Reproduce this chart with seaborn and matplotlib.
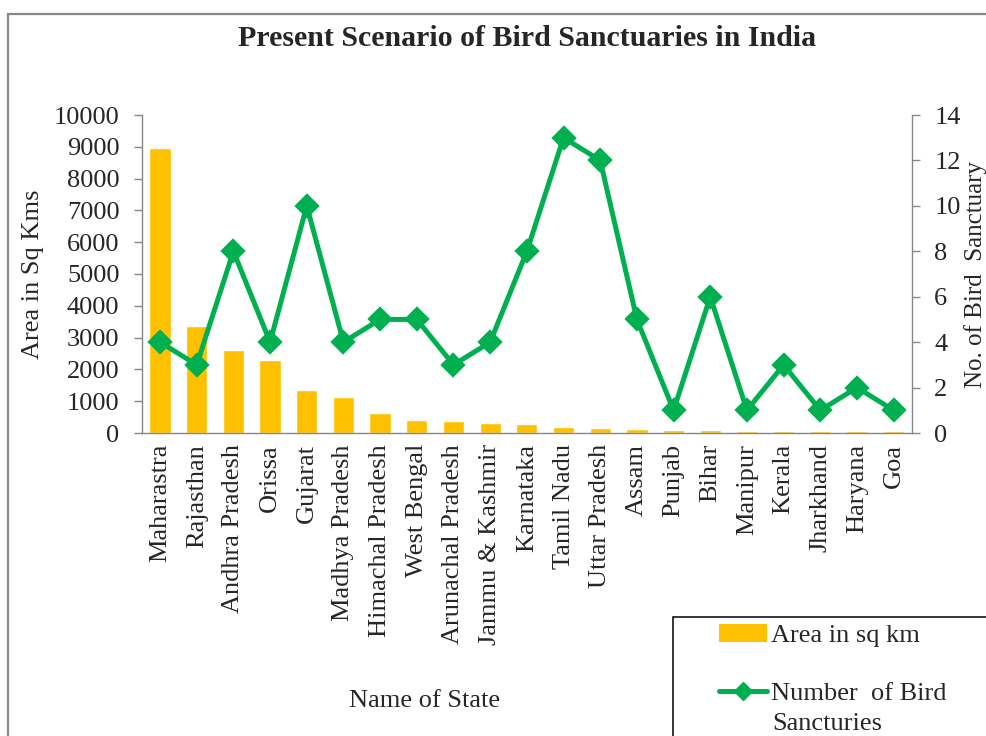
import numpy as np
import pandas as pd
import matplotlib
matplotlib.use("Agg")
import matplotlib.pyplot as plt
from matplotlib.patches import Rectangle, Patch
from matplotlib.lines import Line2D
import seaborn as sns

states = ["Maharastra", "Rajasthan", "Andhra Pradesh", "Orissa", "Gujarat",
          "Madhya Pradesh", "Himachal Pradesh", "West Bengal", "Arunachal Pradesh",
          "Jammu & Kashmir", "Karnataka", "Tamil Nadu", "Uttar Pradesh", "Assam",
          "Punjab", "Bihar", "Manipur", "Kerala", "Jharkhand", "Haryana", "Goa"]
area_sqkm = [8950, 3360, 2620, 2285, 1340, 1130, 640, 420, 375, 315, 270,
             200, 160, 125, 95, 90, 60, 58, 58, 58, 58]
num_sanctuaries = [4, 3, 8, 4, 10, 4, 5, 5, 3, 4, 8, 13, 12, 5, 1, 6, 1, 3, 1, 2, 1]
left_ticks = list(range(0, 10001, 1000))
right_ticks = list(range(0, 15, 2))

df = pd.DataFrame({"state": states, "area": area_sqkm, "count": num_sanctuaries})

sns.set_style("white")
plt.rcParams["font.family"] = ["Liberation Serif", "DejaVu Serif"]
FS = 19
BAR = "#FFC000"
LINE = "#00B050"
GRAY = "#868686"

fig = plt.figure(figsize=(9.86, 7.36), dpi=100)
ax = fig.add_axes([141.7 / 986, 1 - 433 / 736, (912 - 141.7) / 986, (433 - 115) / 736])

sns.barplot(data=df, x="state", y="area", color=BAR, saturation=1, width=0.58,
            ax=ax, errorbar=None)
ax2 = ax.twinx()
sns.pointplot(data=df, x="state", y="count", ax=ax2, color=LINE, markers="D",
              markersize=10, linewidth=3.6, errorbar=None)

n = len(states)
ax.set_xlim(-0.5, n - 0.5)
ax.set_ylim(0, 10000)
ax2.set_ylim(0, 14)
ax.set_yticks(left_ticks)
ax.set_yticklabels([str(t) for t in left_ticks], fontsize=FS)
ax2.set_yticks(right_ticks)
ax2.set_yticklabels([str(t) for t in right_ticks], fontsize=FS)
ax.set_xticks(range(n))
ax.set_xticklabels(states, rotation=90, fontsize=FS)
ax.set_xticks(np.arange(-0.5, n, 1.0), minor=True)
ax.tick_params(axis="x", which="major", length=0, pad=8)
ax.tick_params(axis="x", which="minor", length=6, width=1.0, color=GRAY, direction="out")
ax.tick_params(axis="y", length=6, width=1.0, color=GRAY, direction="out", pad=10, left=True)
ax2.tick_params(axis="y", length=6, width=1.0, color=GRAY, direction="out", pad=10, right=True)
ax2.tick_params(axis="x", which="both", bottom=False, top=False, labelbottom=False)
ax2.set_xlabel("")

for sp in ["top", "right"]:
    ax.spines[sp].set_visible(False)
for sp in ["left", "bottom"]:
    ax.spines[sp].set_color(GRAY)
    ax.spines[sp].set_linewidth(1.0)
for sp in ["top", "left", "bottom"]:
    ax2.spines[sp].set_visible(False)
ax2.spines["right"].set_color(GRAY)
ax2.spines["right"].set_linewidth(1.0)

ax.set_xlabel("Name of State", fontsize=FS)
ax.xaxis.set_label_coords((425 - 141.7) / 770.3, (433 - 690) / 318)
ax.set_ylabel("Area in Sq Kms", fontsize=FS)
ax.yaxis.set_label_coords((44 - 141.7) / 770.3, 0.5)
ax2.set_ylabel("No. of Bird  Sanctuary", fontsize=18)
ax2.yaxis.set_label_coords((964 - 141.7) / 770.3, 0.5)

fig.text(527 / 986, 1 - 38 / 736, "Present Scenario of Bird Sanctuaries in India",
         ha="center", va="center", fontsize=21.5, fontweight="bold")

# outer chart border (cropped at right/bottom)
fig.add_artist(Rectangle((8 / 986, -0.2), 1.2, 1.2 - 14 / 736, transform=fig.transFigure,
                         fill=False, edgecolor="#888888", linewidth=1.6, clip_on=False))
# legend box (cropped at right/bottom)
fig.add_artist(Rectangle((673 / 986, -0.2), 1.0, 0.2 + 1 - 617 / 736, transform=fig.transFigure,
                         fill=False, edgecolor="black", linewidth=1.1, clip_on=False))

handles = [Patch(facecolor=BAR, edgecolor="none"),
           Line2D([], [], color=LINE, marker="D", linewidth=3.6, markersize=9)]
labels = ["Area in sq km", "Number  of Bird"]
fig.legend(handles, labels, loc="upper left", bbox_to_anchor=(716 / 986, 1 - 621 / 736),
           frameon=False, fontsize=FS, handlelength=1.85, handletextpad=0.15,
           labelspacing=1.3, borderpad=0.1, borderaxespad=0)
fig.text(772 / 986, 1 - 724 / 736, "Sancturies", ha="left", va="center", fontsize=FS)

fig.savefig("out.png", dpi=100)
